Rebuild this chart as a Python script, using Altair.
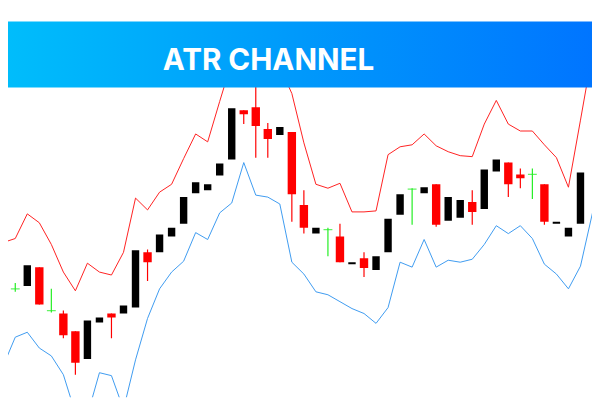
import altair as alt
import pandas as pd

# Candle data (price units = 400 - pixel row)
kind = ["red","doji","black","red","doji","red","red","black","black","red",
        "black","black","red","black","black","black","black","black","black","black",
        "red","red","red","black","red","red","black","doji","red","black",
        "red","black","black","black","doji","black","red","black","black","red",
        "black","black","red","red","doji","red","black","black","black"]
body_top = [293,290,266,268,312,315,333,322,319,315,307,251,253,235,228,197,182,184,163,107,
            109,106,128,126,131,205,228,230,237,263,259,257,219,194,189,187,184,197,200,202,
            169,159,162,174,174,184,222,228,172]
body_bot = [297,290,287,306,312,337,365,361,324,319,315,309,263,253,237,224,193,190,175,159,
            113,125,138,134,194,228,234,230,263,265,269,271,253,215,189,193,225,221,218,212,
            209,171,184,178,174,222,224,237,224]
wick_top = [293,284,266,268,290,312,333,322,319,315,307,251,250,235,228,197,182,184,163,107,
            109,84,122,126,131,190,228,228,224,263,253,257,219,194,188,187,184,197,200,190,
            169,159,162,168,168,184,222,228,172]
wick_bot = [297,293,287,306,314,340,377,361,324,340,315,309,282,253,237,224,193,190,175,159,
            123,157,157,134,222,234,234,257,263,265,278,271,253,215,225,193,227,221,218,225,
            209,171,197,188,199,225,224,237,224]
upper = [243,239,214,223,245,273,292,264,273,276,253,198,210,192,184,158,133,141,100,60,
         50,50,55,65,92,142,184,188,183,212,212,211,154,146,144,133,145,151,155,156,
         123,99,123,130,130,144,157,187,119,50]
lower = [368,339,334,350,358,377,416,418,375,378,412,362,320,290,273,262,233,240,213,203,
         162,195,197,204,263,275,293,296,303,310,315,325,309,263,268,240,268,261,263,260,
         245,226,234,226,239,265,275,290,267,213]

title = "ATR CHANNEL"

H = 400
candles = pd.DataFrame({
    "i": list(range(len(kind))),
    "kind": kind,
    "top": [H - v for v in body_top],
    "bot": [H - v for v in body_bot],
    "hi": [H - v for v in wick_top],
    "lo": [H - v for v in wick_bot],
})
bands = pd.DataFrame({
    "i": list(range(len(upper))),
    "upper": [H - v for v in upper],
    "lower": [H - v for v in lower],
})

xs = alt.Scale(domain=[10 / 12.4, 602 / 12.4], nice=False, zero=False)
ys = alt.Scale(domain=[0, 392], nice=False, zero=False)
X = alt.X("i:Q", scale=xs, axis=None)

cmap = alt.Scale(domain=["red", "black", "doji"], range=["#ff0000", "#000000", "#22ee22"])

up_line = alt.Chart(bands).mark_line(color="#ff2020", strokeWidth=1, clip=True).encode(
    x=X, y=alt.Y("upper:Q", scale=ys, axis=None))
lo_line = alt.Chart(bands).mark_line(color="#3d9af0", strokeWidth=1, clip=True).encode(
    x=X, y=alt.Y("lower:Q", scale=ys, axis=None))

wick_df = candles[candles["kind"] != "black"]
wicks = alt.Chart(wick_df).mark_rule(strokeWidth=1.2, clip=True).encode(
    x=X, y=alt.Y("lo:Q", scale=ys, axis=None), y2="hi:Q",
    color=alt.Color("kind:N", scale=cmap, legend=None))

red_bodies = alt.Chart(candles[candles["kind"] == "red"]).mark_bar(
    size=8.5, orient="vertical", clip=True).encode(
    x=X, y=alt.Y("bot:Q", scale=ys, axis=None), y2="top:Q",
    color=alt.Color("kind:N", scale=cmap, legend=None))
black_bodies = alt.Chart(candles[candles["kind"] == "black"]).mark_bar(
    size=7.5, orient="vertical", clip=True).encode(
    x=X, y=alt.Y("bot:Q", scale=ys, axis=None), y2="top:Q",
    color=alt.Color("kind:N", scale=cmap, legend=None))

doji_df = candles[candles["kind"] == "doji"]
dojis = alt.Chart(doji_df).mark_tick(orient="horizontal", size=9, thickness=1.2, clip=True).encode(
    x=X, y=alt.Y("top:Q", scale=ys, axis=None),
    color=alt.Color("kind:N", scale=cmap, legend=None))

banner = alt.Chart(pd.DataFrame({"t": [title]})).mark_rect(
    color=alt.Gradient(gradient="linear",
                       stops=[alt.GradientStop(color="#00bdfb", offset=0),
                              alt.GradientStop(color="#0099fb", offset=0.5),
                              alt.GradientStop(color="#0075ff", offset=1)],
                       x1=0, x2=1, y1=0, y2=0)
).encode(x=alt.value(0), x2=alt.value(592), y=alt.value(11), y2=alt.value(78))

text = alt.Chart(pd.DataFrame({"t": [title]})).mark_text(
    font="Inter", fontWeight="bold", fontSize=30, color="white",
    align="center", baseline="middle"
).encode(x=alt.value(264), y=alt.value(51), text="t:N")

chart = alt.layer(up_line, lo_line, wicks, red_bodies, black_bodies, dojis, banner, text).properties(
    width=592, height=392,
    autosize=alt.AutoSizeParams(type="fit", contains="padding"),
    padding=0,
    background="white",
).configure_view(stroke="transparent", strokeWidth=0)

chart.save("out.html", embed_options={"renderer": "svg", "actions": False})
